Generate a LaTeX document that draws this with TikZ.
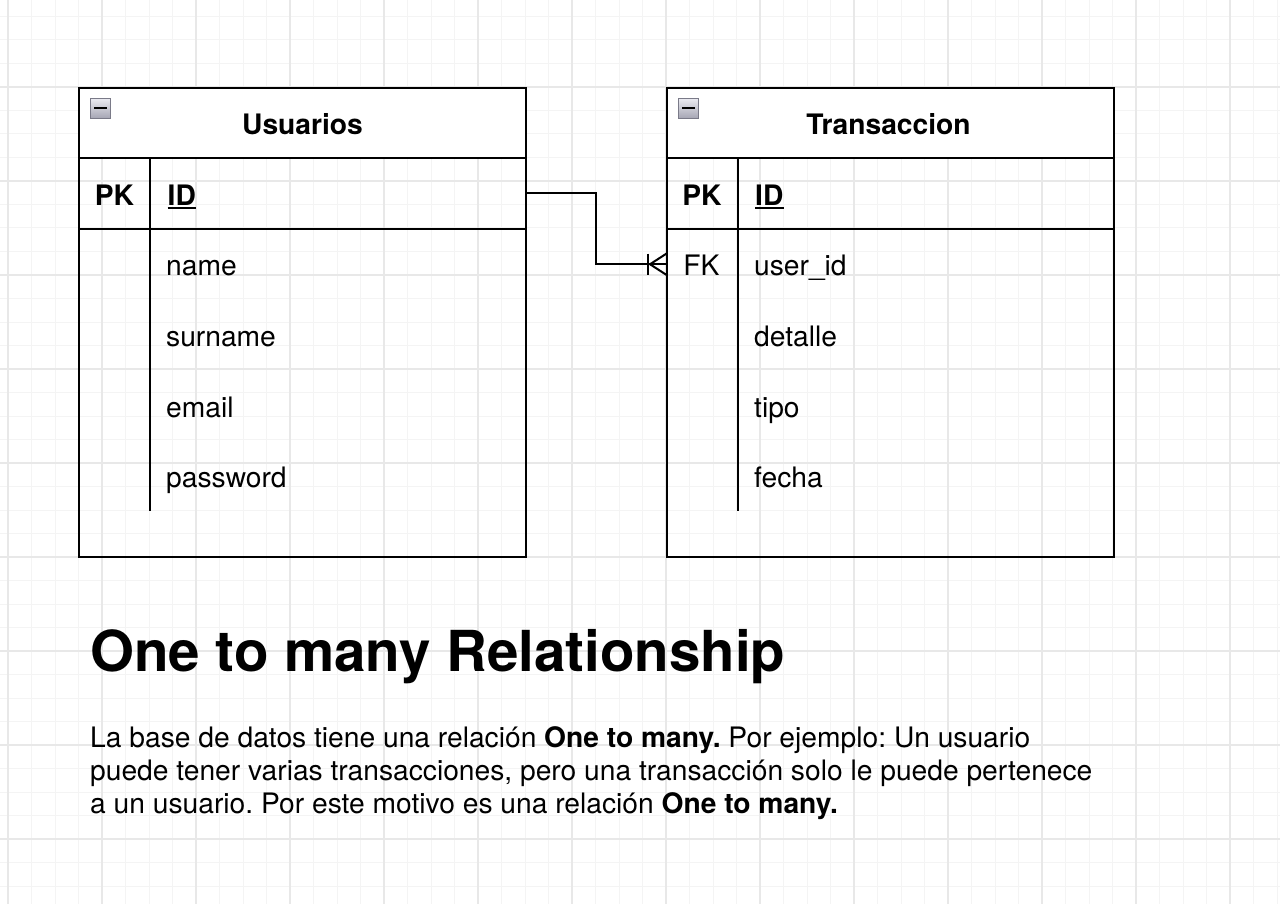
\documentclass[tikz,border=0pt]{standalone}
\usepackage{fontspec}
\setmainfont{TeX Gyre Heros}
\frenchspacing
\definecolor{gridminor}{HTML}{F4F4F4}
\definecolor{gridmajor}{HTML}{E8E8E8}
\definecolor{iconborder}{HTML}{7A7A88}
\definecolor{icontop}{HTML}{ECECF2}
\definecolor{iconbottom}{HTML}{A4A4B2}
\tikzset{
  minorline/.style={draw=gridminor, line width=1pt},
  majorline/.style={draw=gridmajor, line width=1.5pt},
  tbl/.style={draw, line width=2pt, rectangle, inner sep=0pt, outer sep=0pt, minimum width=447pt, minimum height=469pt},
  titlerow/.style={draw, fill=white, line width=2pt, rectangle, inner sep=0pt, outer sep=0pt, minimum width=447pt, minimum height=70pt},
  pkrow/.style={draw, line width=2pt, rectangle, inner sep=0pt, outer sep=0pt, minimum width=447pt, minimum height=71pt},
  fkrow/.style={rectangle, inner sep=0pt, outer sep=0pt, minimum width=447pt, minimum height=70.5pt},
  tline/.style={line width=2pt},
  conn/.style={line width=2pt},
  field/.style={anchor=base west, inner sep=0pt, font=\fontsize{28.2}{33}\selectfont},
  keylbl/.style={anchor=base, inner sep=0pt, font=\fontsize{28.2}{33}\selectfont},
  tabtitle/.style={font=\fontsize{28.2}{33}\selectfont\bfseries},
  minusicon/.style={rectangle, draw=iconborder, line width=1pt, top color=icontop, bottom color=iconbottom, minimum size=20.5pt, inner sep=0pt, outer sep=0pt},
  bodytext/.style={anchor=base west, inner sep=0pt, font=\fontsize{28.2}{33}\selectfont},
}
\begin{document}
\begin{tikzpicture}[x=1pt,y=-1pt]
\useasboundingbox (0,0) rectangle (1280,904);
\fill[white] (0,0) rectangle (1280,904);
% grid
\foreach \i in {0,...,54} \draw[minorline] ({8+23.5*\i},0) -- ({8+23.5*\i},904);
\foreach \j in {0,...,37} \draw[minorline] (0,{16.5+23.5*\j}) -- (1280,{16.5+23.5*\j});
\foreach \i in {0,...,13} \draw[majorline] ({8+94*\i},0) -- ({8+94*\i},904);
\foreach \j in {0,...,8} \draw[majorline] (0,{87+94*\j}) -- (1280,{87+94*\j});

% ---------- Usuarios ----------
\node[titlerow] (u-title) at (302.5,123) {};
\node[tabtitle, anchor=base, inner sep=0pt] (u-name) at (302.5,135) {Usuarios};
\node[tbl] (usuarios) at (302.5,322.5) {};
\node[pkrow] (u-pk) at (302.5,193.5) {};
\draw[tline] ([xshift=71pt]u-pk.north west) -- ++(0,353);
\node[minusicon] (u-icon) at (100.5,108.5) {};
\draw[line width=2pt] ([xshift=-6.5pt]u-icon.center) -- ([xshift=6.5pt]u-icon.center);
\node[keylbl, font=\fontsize{28.2}{33}\selectfont\bfseries] (u-pklbl) at (114.5,205.5) {PK};
\node[field, font=\fontsize{28.2}{33}\selectfont\bfseries] (u-id) at (167.5,205.5) {ID};
\draw[line width=2pt] ([yshift=-2.5pt]u-id.base west) -- ([yshift=-2.5pt]u-id.base east);
\node[field] (u-f1) at (166,276) {name};
\node[field] (u-f2) at (166,346.5) {surname};
\node[field] (u-f3) at (166,417) {email};
\node[field] (u-f4) at (166,487.5) {password};

% ---------- Transaccion ----------
\node[titlerow] (t-title) at (890.5,123) {};
\node[tabtitle, anchor=base, inner sep=0pt] (t-name) at (888.5,135) {Transaccion};
\node[tbl] (transaccion) at (890.5,322.5) {};
\node[pkrow] (t-pk) at (890.5,193.5) {};
\node[fkrow] (t-fk) at (890.5,264.25) {};
\draw[tline] ([xshift=71pt]t-pk.north west) -- ++(0,353);
\node[minusicon] (t-icon) at (688.5,108.5) {};
\draw[line width=2pt] ([xshift=-6.5pt]t-icon.center) -- ([xshift=6.5pt]t-icon.center);
\node[keylbl, font=\fontsize{28.2}{33}\selectfont\bfseries] (t-pklbl) at (702,205.5) {PK};
\node[field, font=\fontsize{28.2}{33}\selectfont\bfseries] (t-id) at (755,205.5) {ID};
\draw[line width=2pt] ([yshift=-2.5pt]t-id.base west) -- ([yshift=-2.5pt]t-id.base east);
\node[keylbl] (t-fklbl) at (701.5,276) {FK};
\node[field] (t-f1) at (754,276) {user\_id};
\node[field] (t-f2) at (754,346.5) {detalle};
\node[field] (t-f3) at (754,417) {tipo};
\node[field] (t-f4) at (754,487.5) {fecha};

% ---------- connector (one to many) ----------
\draw[conn] (u-pk.east) -- ++(70,0) |- (t-fk.west);
\draw[conn] ([xshift=-19pt,yshift=10.5pt]t-fk.west) -- ([xshift=-19pt,yshift=-10.5pt]t-fk.west);
\draw[conn] ([yshift=11pt]t-fk.west) -- ([xshift=-17pt]t-fk.west) -- ([yshift=-11pt]t-fk.west);

% ---------- text ----------
\node[anchor=base west, inner sep=0pt, font=\fontsize{56.5}{67}\selectfont\bfseries] (heading) at (90,671) {One to many Relationship};
\node[bodytext] (p1) at (90,747) {La base de datos tiene una relación \textbf{One to many.} Por ejemplo: Un usuario};
\node[bodytext] (p2) at (90,780) {puede tener varias transacciones, pero una transacción solo le puede pertenece};
\node[bodytext] (p3) at (90,813) {a un usuario. Por este motivo es una relación \textbf{One to many.}};
\end{tikzpicture}
\end{document}
